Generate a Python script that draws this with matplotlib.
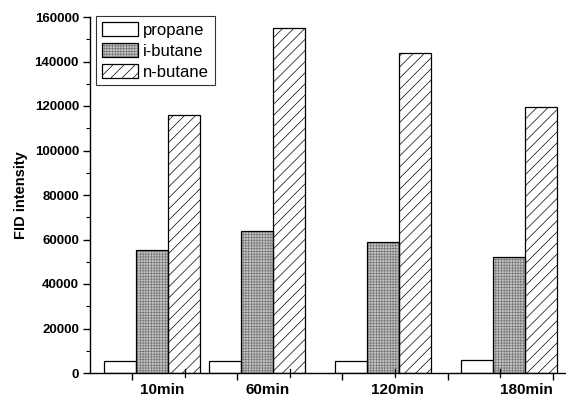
import matplotlib
matplotlib.use("Agg")
import matplotlib.pyplot as plt
from matplotlib.patches import Patch
from matplotlib.ticker import FixedLocator, MultipleLocator

# ---- data ----
categories = ["10min", "60min", "120min", "180min"]
series_names = ["propane", "i-butane", "n-butane"]
propane = [5500, 5500, 5500, 5800]
i_butane = [55500, 64000, 59000, 52000]
n_butane = [116000, 155000, 144000, 119500]

# ---- layout (axis units; tick marks at 0..8) ----
group_centers = [0.38, 2.38, 4.77, 7.17]
label_pos = [0.57, 2.57, 5.04, 7.49]
bar_w = 0.61

plt.rcParams['font.family'] = ['Liberation Sans', 'DejaVu Sans']
plt.rcParams['hatch.linewidth'] = 0.5

fig = plt.figure(figsize=(5.66, 3.99), dpi=100)
ax = fig.add_axes([90/566, 26/399, 476/566, 356/399])

series = [propane, i_butane, n_butane]
styles = [
    dict(fc="white", hatch=None, hc="black"),
    dict(fc="#c4c4c4", hatch="++++++", hc="#777777"),
    dict(fc="white", hatch="///", hc="black"),
]
handles = []
for k, (vals, st) in enumerate(zip(series, styles)):
    xs = [c + (k - 1) * bar_w for c in group_centers]
    ax.bar(xs, vals, width=bar_w, color=st["fc"], hatch=st["hatch"],
           edgecolor=st["hc"], linewidth=0, zorder=2)
    ax.bar(xs, vals, width=bar_w, fill=False, edgecolor="black",
           linewidth=0.9, zorder=3)
    h1 = Patch(facecolor=st["fc"], hatch=st["hatch"], edgecolor=st["hc"], linewidth=0)
    h2 = Patch(fill=False, edgecolor="black", linewidth=0.9)
    handles.append((h1, h2))

ax.set_xlim(-0.8, 8.25)
ax.set_ylim(0, 160000)

for s in ["top", "right"]:
    ax.spines[s].set_visible(False)
ax.spines["left"].set_linewidth(1.0)
ax.spines["bottom"].set_linewidth(1.0)

ax.yaxis.set_major_locator(MultipleLocator(20000))
ax.yaxis.set_minor_locator(MultipleLocator(10000))
ax.tick_params(axis="y", which="major", direction="out", length=5, width=1,
               pad=3, labelsize=9.5)
ax.tick_params(axis="y", which="minor", direction="out", length=3, width=0.8)
for t in ax.get_yticklabels():
    t.set_fontweight("bold")

ax.xaxis.set_major_locator(FixedLocator(label_pos))
ax.set_xticklabels(categories, fontsize=11, fontweight="bold")
ax.xaxis.set_minor_locator(FixedLocator([0, 2, 4, 6, 8]))
ax.tick_params(axis="x", which="major", length=0, pad=7)
ax.tick_params(axis="x", which="minor", direction="out", length=5, width=1)

# short odd tick marks
for xv in [1, 3, 5, 7]:
    ax.plot([xv, xv], [-2000, 2000], color="black", lw=0.9, clip_on=False, zorder=4)

ax.set_ylabel("FID intensity", fontsize=10.5, fontweight="bold", labelpad=5)

leg = ax.legend(handles, series_names, loc="upper left",
                bbox_to_anchor=(0.012, 1.003), fontsize=12,
                frameon=True, fancybox=False, shadow=False,
                handlelength=2.2, handleheight=0.95, handletextpad=0.3,
                labelspacing=0.3, borderpad=0.35, borderaxespad=0.0)
leg.get_frame().set_edgecolor("black")
leg.get_frame().set_linewidth(0.8)

fig.savefig("out.png", dpi=100)
